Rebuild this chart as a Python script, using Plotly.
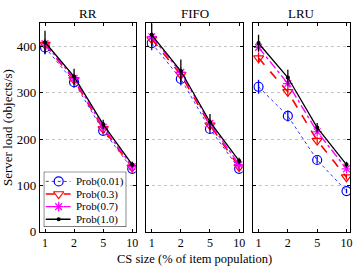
import plotly.graph_objects as go
from plotly.subplots import make_subplots

cs_labels = ["1", "2", "5", "10"]
panels = ["RR", "FIFO", "LRU"]
series_names = ["Prob(0.01)", "Prob(0.3)", "Prob(0.7)", "Prob(1.0)"]

rr_p001 = [398, 323, 218, 136]
rr_p03 = [404, 328, 222, 139]
rr_p07 = [406, 331, 226, 141]
rr_p10 = [409, 335, 232, 145]

fifo_p001 = [407, 330, 222, 136]
fifo_p03 = [416, 339, 230, 140]
fifo_p07 = [421, 344, 234, 145]
fifo_p10 = [425, 347, 237, 153]

lru_p001 = [313, 250, 155, 88]
lru_p03 = [375, 302, 197, 118]
lru_p07 = [398, 320, 216, 136]
lru_p10 = [407, 333, 225, 145]

rr_err = [[15, 12, 8, 5], [8, 7, 5, 4], [8, 7, 5, 4], [25, 17, 10, 6]]
fifo_err = [[15, 14, 9, 5], [8, 7, 5, 4], [8, 7, 5, 4], [25, 25, 17, 7]]
lru_err = [[15, 12, 8, 5], [12, 10, 7, 5], [8, 7, 5, 4], [18, 17, 10, 6]]

data = {
    "RR": [rr_p001, rr_p03, rr_p07, rr_p10],
    "FIFO": [fifo_p001, fifo_p03, fifo_p07, fifo_p10],
    "LRU": [lru_p001, lru_p03, lru_p07, lru_p10],
}
errs = {"RR": rr_err, "FIFO": fifo_err, "LRU": lru_err}

colors = ["#0000ff", "#ff0000", "#ff00ff", "#000000"]
dashes = ["dot", "dash", "dashdot", "solid"]
widths = [0.8, 1.6, 1.4, 1.3]
symbols = ["circle-open", "triangle-down-open", "asterisk-open", "circle"]
msizes = [9, 9, 8, 3]

FONT = "Liberation Serif"
W, H = 353, 267

fig = make_subplots(rows=1, cols=3, shared_yaxes=False)

for pi, pname in enumerate(panels):
    for si in range(4):
        fig.add_trace(
            go.Scatter(
                x=cs_labels,
                y=data[pname][si],
                mode="lines+markers",
                name=series_names[si],
                showlegend=False,
                line=dict(color=colors[si], dash=dashes[si], width=widths[si]),
                marker=dict(symbol=symbols[si], size=msizes[si], color=colors[si],
                            line=dict(color=colors[si], width=1.2)),
                error_y=dict(type="data", array=errs[pname][si], color=colors[si],
                             thickness=1.3, width=0),
            ),
            row=1, col=pi + 1,
        )

domains = [[40 / W, 136.5 / W], [147.3 / W, 244 / W], [254.7 / W, 352 / W]]
ydom = [(H - 239) / H, (H - 24) / H]

for i in range(3):
    ax = "xaxis" if i == 0 else f"xaxis{i+1}"
    ay = "yaxis" if i == 0 else f"yaxis{i+1}"
    fig.layout[ax].update(
        domain=domains[i], type="category", range=[-0.18, 3.12],
        showline=True, linecolor="black", linewidth=1, mirror="ticks",
        ticks="inside", ticklen=3, tickcolor="black", showgrid=False,
        tickfont=dict(family=FONT, size=12, color="black"), zeroline=False,
    )
    fig.layout[ay].update(
        domain=ydom, range=[0, 450], tickvals=[0, 100, 200, 300, 400],
        showline=True, linecolor="black", linewidth=1, mirror="ticks",
        ticks="inside", ticklen=3, tickcolor="black",
        showgrid=True, gridcolor="#c4c4c4", griddash="dot", gridwidth=1,
        showticklabels=(i == 0), zeroline=False,
        tickfont=dict(family=FONT, size=13, color="black"),
    )
    fig.add_annotation(
        text=panels[i], xref="paper", yref="paper",
        x=(domains[i][0] + domains[i][1]) / 2, y=(H - 14) / H,
        showarrow=False, font=dict(family=FONT, size=13, color="black"),
        xanchor="center", yanchor="middle",
    )

fig.layout.yaxis.update(
    title=dict(text="Server load (objects/s)", font=dict(family=FONT, size=13, color="black"),
               standoff=4)
)
fig.add_annotation(
    text="CS size (% of item population)", xref="paper", yref="paper",
    x=196 / W, y=0, showarrow=False, yshift=-8, borderpad=0,
    font=dict(family=FONT, size=12.5, color="black"), xanchor="center", yanchor="bottom",
)

# Compact legend drawn on an invisible pixel-scaled axis pair
lx0, lx1, ly_top, ly_bot = 44, 127, 177, 234
fig.update_layout(
    xaxis4=dict(domain=[lx0 / W, lx1 / W], range=[0, lx1 - lx0], visible=False,
                anchor="y4", fixedrange=True),
    yaxis4=dict(domain=[(H - ly_bot) / H, (H - ly_top) / H], range=[0, ly_bot - ly_top],
                visible=False, anchor="x4", fixedrange=True),
)
fig.add_shape(type="rect", xref="x4", yref="y4", x0=0, x1=lx1 - lx0, y0=0, y1=ly_bot - ly_top,
              fillcolor="white", line=dict(color="black", width=1), layer="below")
row_y = [47, 34, 21, 8]
for si in range(4):
    fig.add_trace(go.Scatter(
        x=[2, 27], y=[row_y[si], row_y[si]], mode="lines", showlegend=False, hoverinfo="skip",
        line=dict(color=colors[si], dash=dashes[si], width=widths[si]),
        xaxis="x4", yaxis="y4",
    ))
    fig.add_trace(go.Scatter(
        x=[15], y=[row_y[si]], mode="markers", showlegend=False, hoverinfo="skip",
        marker=dict(symbol=symbols[si], size=msizes[si], color=colors[si],
                    line=dict(color=colors[si], width=1.2)),
        xaxis="x4", yaxis="y4",
    ))
    fig.add_annotation(
        text=series_names[si], xref="x4", yref="y4", x=30, y=row_y[si],
        showarrow=False, xanchor="left", yanchor="middle",
        font=dict(family=FONT, size=11, color="black"),
    )

fig.update_layout(
    width=W, height=H,
    margin=dict(l=0, r=0, t=0, b=0),
    plot_bgcolor="white", paper_bgcolor="white",
    font=dict(family=FONT, size=13, color="black"),
    showlegend=False,
)

fig.write_html("out.html")
